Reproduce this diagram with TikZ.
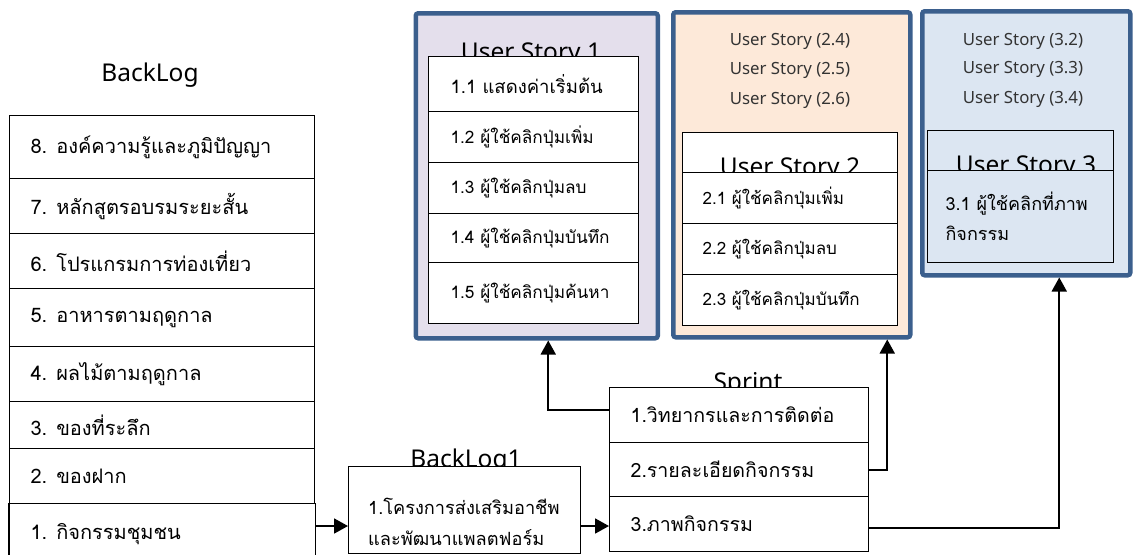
\documentclass[tikz,border=0pt]{standalone}
\usepackage{fontspec}
\setmainfont{Loma}[Script=Thai]
\newfontfamily\lat{Noto Sans}
\usetikzlibrary{arrows.meta}
\definecolor{frame}{HTML}{3B5F8D}
\definecolor{lav}{HTML}{E4DFEC}
\definecolor{peach}{HTML}{FDE9D9}
\definecolor{ice}{HTML}{DCE6F2}
\definecolor{gtext}{HTML}{333333}
\begin{document}
\begin{tikzpicture}[x=1pt,y=-1pt,
  panel/.style={draw=frame, line width=4.5pt, rounded corners=2.5pt, anchor=north west, inner sep=0pt},
  cell/.style={draw=black, line width=1.2pt, anchor=north west, inner ysep=0pt, fill=white},
  lt/.style={execute at begin node={\hbox to #1\bgroup}, execute at end node={\hss\egroup}},
  blcell/.style={cell, minimum width=305pt, inner xsep=21pt, lt=263pt, font=\fontsize{20}{24}\selectfont},
  p1cell/.style={cell, minimum width=210pt, inner xsep=22pt, lt=166pt, font=\fontsize{17.2}{21}\selectfont},
  p2cell/.style={cell, minimum width=215pt, inner xsep=20pt, lt=175pt, font=\fontsize{17}{21}\selectfont},
  spcell/.style={cell, minimum width=259pt, inner xsep=21pt, lt=217pt, font=\fontsize{19.6}{23}\selectfont},
  title/.style={anchor=base, font=\lat\fontsize{24.5}{28}\selectfont},
  small/.style={font=\lat\fontsize{16.8}{20}\selectfont, text=gtext},
  conn/.style={line width=1.8pt, -{Triangle[length=14pt,width=15pt]}}
]
\useasboundingbox (0,0) rectangle (1136,555);

% ---------- BackLog ----------
\node[title] (bltitle) at (150,81) {BackLog};
\node[blcell, minimum height=63pt] (b8) at (9,115) {8. องค์ความรู้และภูมิปัญญา};
\node[blcell, minimum height=55pt] (b7) at (9,178) {7. หลักสูตรอบรมระยะสั้น};
\node[blcell, minimum height=55pt] (b6) at (9,233) {6. โปรแกรมการท่องเที่ยว};
\node[blcell, minimum height=58pt] (b5) at (9,288) {5. อาหารตามฤดูกาล};
\node[blcell, minimum height=55pt] (b4) at (9,346) {4. ผลไม้ตามฤดูกาล};
\node[blcell, minimum height=47pt] (b3) at (9,401) {3. ของที่ระลึก};
\node[blcell, minimum height=55pt] (b2) at (9,448) {2. ของฝาก};
\node[blcell, draw=none, fill=none, minimum height=60pt] (b1) at (9,503) {1. กิจกรรมชุมชน};
\draw[line width=1.2pt] (b1.north west) -- (b1.north west |- 0,555);
\draw[line width=1.2pt] (b1.north east) -- (b1.north east |- 0,555);

% ---------- BackLog1 ----------
\node[title] (bk1title) at (466,467) {BackLog1};
\node[cell, minimum width=232pt, minimum height=87pt, inner sep=0pt] (bk1) at (348,466) {};
\node[anchor=west, align=left, inner sep=0pt, font=\fontsize{18.2}{31}\selectfont] (bk1t) at (368,522) {1.โครงการส่งเสริมอาชีพ\\และพัฒนาแพลตฟอร์ม};

% ---------- Sprint ----------
\node[title] (sptitle) at (748,390) {Sprint};
\node[spcell, minimum height=55pt] (s1) at (609,387) {1.วิทยากรและการติดต่อ};
\node[spcell, minimum height=54pt] (s2) at (609,442) {2.รายละเอียดกิจกรรม};
\node[spcell, minimum height=55pt] (s3) at (609,496) {3.ภาพกิจกรรม};

% ---------- Panel 1 ----------
\node[panel, fill=lav, minimum width=242pt, minimum height=325pt] (p1) at (413.5,11) {};
\node[title] (us1) at (531,60) {User Story 1};
\node[p1cell, minimum height=55pt, font=\fontsize{18.5}{22}\selectfont] (r11) at (428,56) {1.1 แสดงค่าเริ่มต้น};
\node[p1cell, minimum height=51pt] (r12) at (428,111) {1.2 ผู้ใช้คลิกปุ่มเพิ่ม};
\node[p1cell, minimum height=51pt] (r13) at (428,162) {1.3 ผู้ใช้คลิกปุ่มลบ};
\node[p1cell, minimum height=49pt] (r14) at (428,213) {1.4 ผู้ใช้คลิกปุ่มบันทึก};
\node[p1cell, minimum height=61pt] (r15) at (428,262) {1.5 ผู้ใช้คลิกปุ่มค้นหา};

% ---------- Panel 2 ----------
\node[panel, fill=peach, minimum width=237pt, minimum height=325pt] (p2) at (671,10) {};
\node[small] (u24) at (790,41) {User Story (2.4)};
\node[small] (u25) at (790,70) {User Story (2.5)};
\node[small] (u26) at (790,100) {User Story (2.6)};
\node[cell, minimum width=215pt, minimum height=58pt, inner sep=0pt] (us2box) at (682,132) {};
\node[title] (us2) at (790,175) {User Story 2};
\node[p2cell, minimum height=51pt] (r21) at (682,172) {2.1 ผู้ใช้คลิกปุ่มเพิ่ม};
\node[p2cell, minimum height=51pt] (r22) at (682,223) {2.2 ผู้ใช้คลิกปุ่มลบ};
\node[p2cell, minimum height=51pt] (r23) at (682,274) {2.3 ผู้ใช้คลิกปุ่มบันทึก};

% ---------- Panel 3 ----------
\node[panel, fill=ice, minimum width=208pt, minimum height=264pt] (p3) at (920,9) {};
\node[small] (u32) at (1023,41) {User Story (3.2)};
\node[small] (u33) at (1023,69) {User Story (3.3)};
\node[small] (u34) at (1023,99) {User Story (3.4)};
\node[cell, fill=ice, minimum width=186pt, minimum height=50pt, inner sep=0pt] (us3box) at (927,130) {};
\node[title] (us3) at (1026,173) {User Story 3};
\node[cell, fill=ice, minimum width=186pt, minimum height=92pt, text width=150pt, inner xsep=18pt, align=left, font=\fontsize{18}{30}\selectfont] (r31) at (927,170) {3.1 ผู้ใช้คลิกที่ภาพ\\กิจกรรม};

% ---------- connectors ----------
\coordinate (lvl) at (0,526);
\draw[conn] (b1.east |- lvl) -- (bk1.west |- lvl);
\draw[conn] (bk1.east |- lvl) -- (s3.west |- lvl);
\draw[conn] ([yshift=5pt]s1.west) -| ([xshift=11.5pt]p1.south);
\draw[conn] (s2.east) -| ([xshift=95.5pt]p2.south);
\draw[conn] ([yshift=-4pt]s3.east) -| ([xshift=33pt]p3.south);
\end{tikzpicture}
\end{document}
